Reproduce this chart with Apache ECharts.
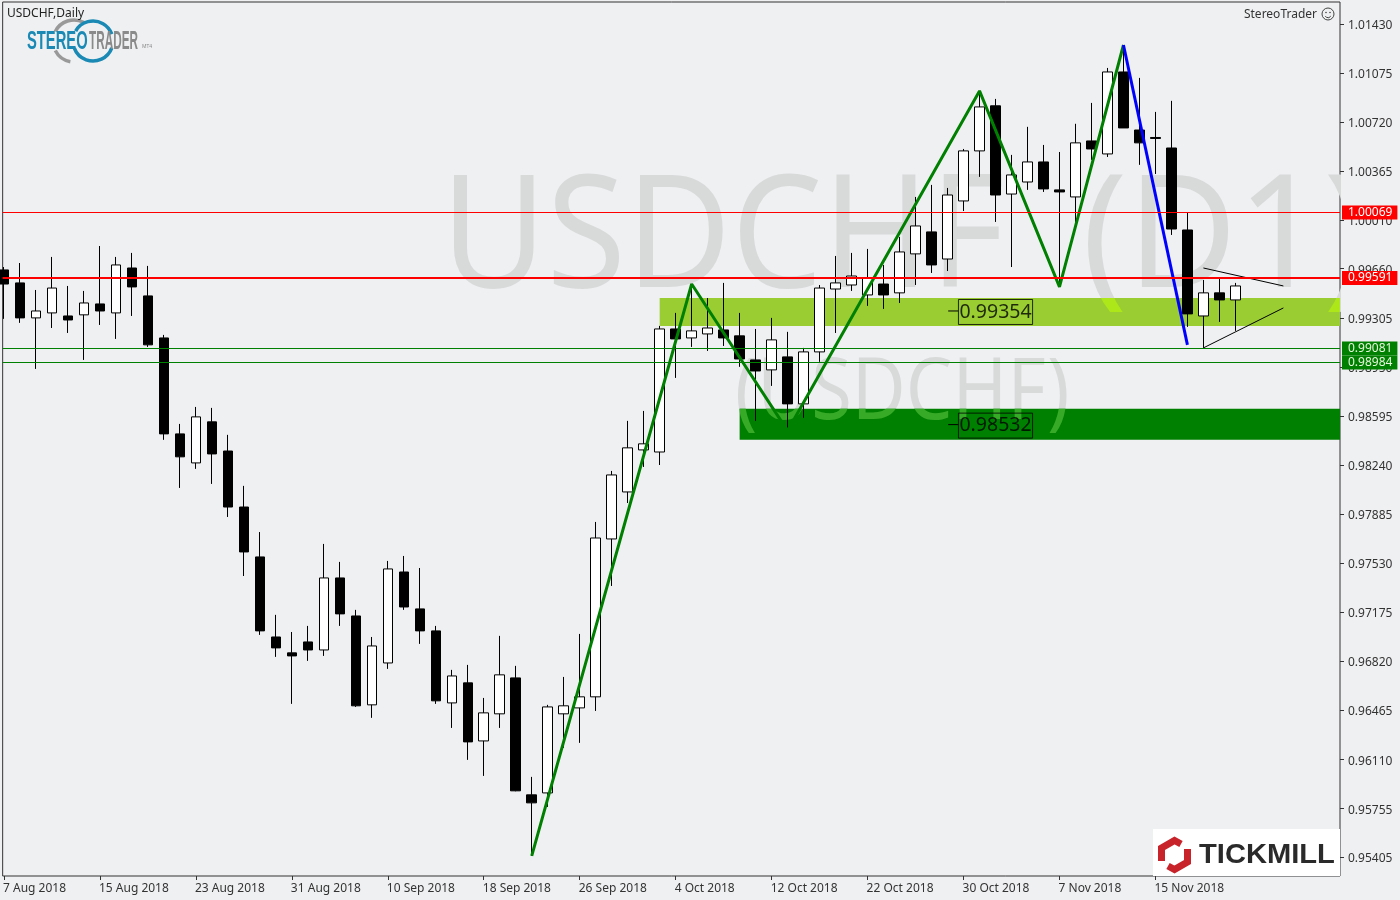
<!DOCTYPE html>
<html><head><meta charset="utf-8">
<style>html,body{margin:0;padding:0;background:#EFF0F2}#c{width:1400px;height:900px}</style>
<script src="https://cdn.jsdelivr.net/npm/echarts@6/dist/echarts.min.js"></script>
</head><body><div id="c"></div>
<script>
const opens=[.99651,.99557,.99304,.99340,.99318,.99326,.99405,.99340,.99665,.99463,.99159,.98465,.98255,.98552,.98341,.97936,.97575,.96996,.96881,.96960,.96902,.97423,.97148,.96505,.96808,.97466,.97199,.97040,.96519,.96664,.96244,.96440,.96700,.95854,.95868,.96440,.96483,.96563,.97705,.98045,.98349,.98334,.99224,.99159,.99188,.99217,.99174,.99000,.98928,.99022,.98682,.99058,.99513,.99542,.99470,.99549,.99485,.99767,.99926,.99730,1.00150,1.00512,1.00838,1.00200,1.00287,1.00432,1.00230,1.00179,1.00584,1.00490,1.01083,1.00663,1.00609,1.00533,.99940,.99318,.99485,.99434];
const closes=[.99549,.99304,.99354,.99520,.99289,.99412,.99354,.99687,.99528,.99109,.98465,.98299,.98588,.98320,.97936,.97611,.97040,.96917,.96859,.96902,.97423,.97163,.96498,.96931,.97488,.97213,.97040,.96534,.96714,.96237,.96447,.96722,.95883,.95796,.96490,.96498,.96563,.97712,.98168,.98364,.98393,.99224,.99152,.99210,.99231,.99159,.99007,.98920,.99145,.98682,.99058,.99520,.99557,.99607,.99593,.99470,.99781,.99969,.99687,1.00193,1.00512,1.00830,1.00193,1.00338,1.00432,1.00237,1.00215,1.00570,1.00526,1.01083,1.00678,1.00570,1.00602,.99947,.99333,.99485,.99434,.99535];
const lows=[.99297,.99268,.98935,.99231,.99195,.99000,.99253,.99152,.99318,.99094,.98422,.98074,.98212,.98103,.97864,.97437,.97011,.96852,.96512,.96823,.96859,.97076,.96490,.96411,.96765,.97192,.96946,.96512,.96338,.96107,.95991,.96338,.95880,.95413,.95767,.96194,.96230,.96461,.97365,.97965,.98226,.98240,.98870,.99094,.99065,.99101,.98950,.98559,.98812,.98501,.98581,.98986,.99195,.99499,.99391,.99369,.99412,.99542,.99629,.99643,1.00077,1.00324,.99998,.99672,1.00230,1.00215,.99528,.99998,1.00447,1.00468,1.00678,1.00411,1.00345,.99904,.99239,.99087,.99275,.99210];
const highs=[.99672,.99701,.99506,.99745,.99535,.99499,.99824,.99745,.99774,.99680,.99181,.98537,.98660,.98653,.98458,.98089,.97755,.97156,.97032,.97076,.97669,.97539,.97192,.96996,.97546,.97582,.97495,.97076,.96758,.96794,.96555,.97004,.96787,.95984,.96505,.96707,.97018,.97828,.98197,.98559,.98631,.99246,.99340,.99549,.99448,.99557,.99340,.99224,.99304,.99203,.99087,.99542,.99752,.99774,.99803,.99687,.99890,1.00179,1.00266,1.00244,1.00526,1.00946,1.00888,1.00483,1.00686,1.00555,1.00504,1.00708,1.00859,1.01112,1.01278,1.01040,1.00794,1.00874,1.00063,.99578,.99586,.99557];
const yTicks=[1.0143,1.01075,1.0072,1.00365,1.0001,.9966,.99305,.9895,.98595,.9824,.97885,.9753,.97175,.9682,.96465,.9611,.95755,.95405];
const xTickIndex=[0,6,12,18,24,30,36,42,48,54,60,66,72];
const xTickLabels=['7 Aug 2018','15 Aug 2018','23 Aug 2018','31 Aug 2018','10 Sep 2018','18 Sep 2018','26 Sep 2018','4 Oct 2018','12 Oct 2018','22 Oct 2018','30 Oct 2018','7 Nov 2018','15 Nov 2018'];
const zigGreen=[[33,.95413],[43,.99549],[49,.98487],[61,1.00946],[66,.99528],[70,1.01278]];
const zigBlue=[[70,1.01278],[74,.99109]];
const trendUpper=[[75,.99665],[80,.99535]];
const trendLower=[[75,.99087],[80,.99376]];
const levels=[[1.00069,'#FF0000',1,'#fff'],[.99591,'#FF0000',2,'#fff'],[.99081,'#008000',1,'#E6F5DC'],[.98984,'#008000',1,'#E6F5DC']];
const zones=[[41,.99448,.99246,'#9ACD32','#ADE71A'],[46,.98646,.98422,'#008000','#37AA28']];
const boxLevels=[.99354,.98532];

const yMin=.95267,yMax=1.01589,xMin=-.08125,xMax=83.54;
const BG='#EFF0F2',WM='#D8DADA';
const labelNudge=.00012;
const candle=opens.map((o,i)=>[i,o,closes[i],lows[i],highs[i]]);
const chart=echarts.init(document.getElementById('c'),null,{renderer:'canvas'});
const wmParts=[
 {text:'USDCHF',x:441,y:242,sx:.92,font:'157px "Noto Sans"'},
 {text:'(D1)',x:1082,y:242,sx:.96,font:'157px "Noto Sans"'},
 {text:'(USDCHF)',x:735,y:394,sx:.86,font:'86px "Noto Sans"'}];
const wmEl=(p,fill,z)=>({type:'text',z,silent:true,x:p.x,y:p.y,scaleX:p.sx,style:{text:p.text,font:p.font,fill,verticalAlign:'middle'}});
const arc=(cx,cy,r,a,b,c,w)=>({type:'arc',z:30,silent:true,shape:{cx,cy,r,startAngle:a*Math.PI/180,endAngle:b*Math.PI/180,clockwise:true},style:{stroke:c,fill:null,lineWidth:w||3.5}});
const txt=(text,x,y,font,fill,extra,sx)=>({type:'text',z:31,silent:true,x,y,scaleX:sx||1,style:Object.assign({text,font,fill,verticalAlign:'middle'},extra||{})});
chart.setOption({
 animation:false,backgroundColor:BG,
 grid:{show:true,left:2,right:60,top:2,bottom:24,borderColor:'#333',borderWidth:1,backgroundColor:'transparent',z:0},
 xAxis:{type:'value',min:xMin,max:xMax,splitLine:{show:false},axisLine:{show:false,onZero:false},
   axisTick:{show:true,length:4,customValues:xTickIndex,lineStyle:{color:'#333'}},
   axisLabel:{customValues:xTickIndex.map(v=>v-.06),formatter:v=>xTickLabels[Math.round(v/6)],align:'left',margin:7,color:'#333',fontFamily:'Noto Sans',fontSize:12}},
 yAxis:{type:'value',position:'right',min:yMin,max:yMax,z:10,splitLine:{show:false},axisLine:{show:false,onZero:false},
   axisTick:{show:true,length:4,customValues:yTicks,lineStyle:{color:'#333'}},
   axisLabel:{customValues:yTicks.map(v=>v-labelNudge),formatter:v=>(v+labelNudge).toFixed(5),margin:8,color:'#333',fontFamily:'Noto Sans',fontSize:12}},
 series:[
  {type:'custom',z:1,silent:true,clip:true,data:zones.map(z=>[z[0],xMax,z[1],z[2]]),encode:{x:[0,1],y:[2,3]},
   renderItem(p,api){const a=api.coord([api.value(0),api.value(2)]),b=api.coord([api.value(1),api.value(3)]);
     const shape={x:a[0],y:a[1],width:b[0]-a[0],height:b[1]-a[1]},z=zones[p.dataIndex];
     return {type:'group',children:[{type:'rect',shape,style:{fill:z[3]}},
       {type:'group',clipPath:{type:'rect',shape},children:wmParts.map(w=>({type:'text',x:w.x,y:w.y,scaleX:w.sx,style:{text:w.text,font:w.font,fill:z[4],verticalAlign:'middle'}}))}]};}},
  {type:'candlestick',z:2,silent:true,clip:true,barWidth:10,data:candle,
   itemStyle:{color:'#fff',color0:'#000',borderColor:'#000',borderColor0:'#000',borderWidth:1}},
  {type:'custom',z:11,silent:true,clip:false,data:levels.map(l=>[xMin,xMax,l[0]]),encode:{x:[0,1],y:2},
   renderItem(p,api){const l=levels[p.dataIndex],a=api.coord([api.value(0),api.value(2)]),b=api.coord([api.value(1),api.value(2)]);
     const y=Math.round(a[1]-l[2]/2);
     return {type:'group',children:[{type:'rect',shape:{x:a[0],y,width:b[0]-a[0],height:l[2]},style:{fill:l[1]}},
       {type:'text',x:1342,y:y+l[2]/2,style:{text:l[0].toFixed(5),fill:l[3],font:'12px "Noto Sans"',verticalAlign:'middle',backgroundColor:l[1],padding:[1,5,1,6]}}]};}},
  {type:'line',z:4,silent:true,data:zigGreen,symbol:'none',lineStyle:{color:'#008000',width:3}},
  {type:'line',z:5,silent:true,data:zigBlue,symbol:'none',lineStyle:{color:'#0000FF',width:3}},
  {type:'line',z:4,silent:true,data:trendUpper,symbol:'none',lineStyle:{color:'#000',width:1}},
  {type:'line',z:4,silent:true,data:trendLower,symbol:'none',lineStyle:{color:'#000',width:1}},
  ...boxLevels.map(v=>({type:'line',z:3,silent:true,data:[[59.04,v],[59.67,v]],symbol:'none',lineStyle:{color:'#000',width:1}})),
  {type:'scatter',z:6,silent:true,symbolSize:0,data:boxLevels.map(v=>[62,v]),
   label:{show:true,position:'inside',offset:[0,1],formatter:p=>p.value[1].toFixed(5),color:'#000',fontFamily:'Noto Sans',fontSize:19.5,borderColor:'#000',borderWidth:1,padding:[1,1,0,1],lineHeight:24}}
 ],
 graphic:[
  ...wmParts.map(p=>wmEl(p,WM,0.2)),
  {type:'rect',z:0.6,silent:true,shape:{x:1341,y:0,width:59,height:900},style:{fill:BG}},
  txt('USDCHF,Daily',7,14,'12px "Noto Sans"','#222'),
  txt('StereoTrader',1317,15,'12px "Noto Sans"','#333',{align:'right'}),
  {type:'circle',z:30,silent:true,shape:{cx:1328,cy:14,r:6},style:{fill:null,stroke:'#444',lineWidth:1}},
  {type:'circle',z:30,silent:true,shape:{cx:1326,cy:12.5,r:.8},style:{fill:'#444'}},
  {type:'circle',z:30,silent:true,shape:{cx:1330,cy:12.5,r:.8},style:{fill:'#444'}},
  arc(1328,14.5,3.2,30,150,'#444',1),
  arc(74,41,21,-153,-60,'#999'),arc(74,41,21,100,153,'#999'),
  arc(93,41,20,-150,-20,'#1A8AB5'),arc(93,41,20,20,160,'#1A8AB5'),
  txt('STEREO',27,42.5,'bold 25px "Liberation Sans"','#1A8AB5',null,.59),
  txt('TRADER',89,42.5,'bold 25px "Liberation Sans"','#8A8A8A',null,.47),
  txt('MT4',142,47,'5px "Noto Sans"','#8A8A8A'),
  {type:'rect',z:30,silent:true,shape:{x:1153,y:829,width:187,height:47},style:{fill:'#fff'}},
  {type:'polyline',z:31,silent:true,shape:{points:[[1181,844],[1174.5,840.5],[1161.5,848],[1161.5,861]]},style:{stroke:'#C8232A',lineWidth:7,fill:null}},
  {type:'polyline',z:31,silent:true,shape:{points:[[1168,866],[1174.5,869.5],[1187.5,862],[1187.5,849]]},style:{stroke:'#C8232A',lineWidth:7,fill:null}},
  txt('TICKMILL',1199,855,'bold 28px "Liberation Sans"','#2A2A2A',null,1.04)
 ]
});
</script></body></html>
